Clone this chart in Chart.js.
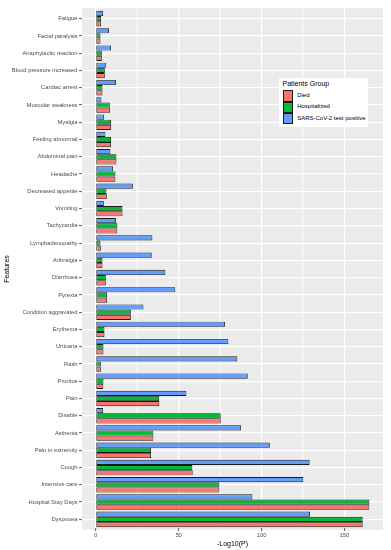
<!DOCTYPE html>
<html>
<head>
<meta charset="utf-8">
<script src="https://cdn.jsdelivr.net/npm/chart.js@4"></script>
<style>
  body { margin: 0; background: #fff; font-family: "Liberation Sans", Arial, sans-serif; }
  #wrap { position: relative; width: 391px; height: 550px; }
  #legend { position: absolute; left: 279px; top: 78px; width: 89px; height: 49px; background: #fff; }
  #legend .title { position: absolute; left: 3.5px; top: 1.5px; font-size: 7px; color: #000; white-space: nowrap; }
  #legend .row { position: absolute; left: 3.7px; height: 11.3px; white-space: nowrap; }
  #legend .key { position: absolute; left: 0; top: 0.3px; width: 8.8px; height: 9.6px; border: 0.9px solid #1a1a1a; }
  #legend .lab { position: absolute; left: 14.5px; top: 0; line-height: 11.3px; font-size: 6px; color: #000; }
</style>
</head>
<body>
<div id="wrap">
  <canvas id="chart" width="391" height="550"></canvas>
  <div id="legend"></div>
</div>
<script>
// categories, top to bottom
const features = ['Fatigue', 'Facial paralysis', 'Anaphylactic reaction', 'Blood pressure increased',
    'Cardiac arrest', 'Muscular weakness', 'Myalgia', 'Feeling abnormal', 'Abdominal pain', 'Headache',
    'Decreased appetite', 'Vomiting', 'Tachycardia', 'Lymphadenopathy', 'Arthralgia', 'Diarrhoea',
    'Pyrexia', 'Condition aggravated', 'Erythema', 'Urticaria', 'Rash', 'Pruritus', 'Pain', 'Disable',
    'Asthenia', 'Pain in extremity', 'Cough', 'Intensive care', 'Hospital Stay Days', 'Dyspnoea']

// -Log10(P) per group
const died = [3.3, 2.9, 3.7, 5.5, 4.1, 8.7, 9.3, 9.3, 12.5, 11.9, 6.7, 16.2, 13.1, 3.1, 4.1, 6.1,
    6.9, 21.2, 5.3, 4.7, 3.1, 4.6, 38.4, 75.4, 34.8, 33.4, 58.5, 74.6, 165, 161]
const hospitalized = [3.3, 2.9, 3.7, 5.5, 4.1, 8.5, 9.3, 9.3, 12.5, 11.9, 6.5, 16.2, 13.1, 2.9, 4.1, 6.1,
    6.9, 21.2, 5.3, 4.7, 3.1, 4.7, 38.3, 75.4, 34.8, 33.4, 58.3, 74.6, 165, 161]
const sarsPositive = [4.5, 8, 9.3, 6.3, 12.2, 3.5, 5.1, 5.9, 8.9, 10.5, 22.4, 4.9, 12.2, 34.2, 33.8, 42,
    48, 28.8, 78, 80, 85.4, 91.7, 54.7, 4.5, 87.7, 105, 129, 125.2, 94.5, 129.2]

// x axis ticks
const xMajor = [0, 50, 100, 150]
const xMinor = [25, 75, 125]
const xTickLabels = ['0', '50', '100', '150']

const groups = ['Died', 'Hospitalized', 'SARS-CoV-2 test positive']
const colors = ['#F8766D', '#00BA38', '#619CFF']

// legend box inside the panel
const legend = document.getElementById('legend')
legend.innerHTML = '<div class="title">Patients Group</div>' + groups.map((g, i) =>
    `<div class="row" style="top:${12 + i * 11.3}px"><div class="key" style="background:${colors[i]}"></div><div class="lab">${g}</div></div>`
).join('')

Chart.defaults.font.family = '"Liberation Sans", Arial, sans-serif'

// grey panel, a bit taller than the chart area like ggplot's discrete expansion
const panelPlugin = {
    id: 'panel',
    beforeDraw(chart) {
        const { ctx, chartArea: a, scales } = chart
        const band = (scales.y.getPixelForValue(1) - scales.y.getPixelForValue(0)) * 0.1
        ctx.save()
        ctx.fillStyle = '#fff'
        ctx.fillRect(0, 0, chart.width, chart.height)
        ctx.fillStyle = '#EBEBEB'
        ctx.fillRect(a.left, a.top - band, a.right - a.left, a.bottom - a.top + 2 * band)
        ctx.strokeStyle = '#fff'
        xMajor.concat(xMinor).forEach(v => {
            const x = scales.x.getPixelForValue(v)
            ctx.lineWidth = xMajor.includes(v) ? 1.2 : 0.6
            ctx.beginPath()
            ctx.moveTo(x, a.top - band)
            ctx.lineTo(x, a.bottom + band)
            ctx.stroke()
        })
        ctx.restore()
    }
}

new Chart(document.getElementById('chart'), {
    type: 'bar',
    data: {
        labels: features,
        datasets: [
            { label: groups[2], data: sarsPositive, backgroundColor: colors[2] },
            { label: groups[1], data: hospitalized, backgroundColor: colors[1] },
            { label: groups[0], data: died, backgroundColor: colors[0] }
        ].map(d => Object.assign(d, {
            borderColor: '#1a1a1a',
            borderWidth: 0.9,
            borderSkipped: false,
            categoryPercentage: 0.9,
            barPercentage: 1
        }))
    },
    options: {
        indexAxis: 'y',
        responsive: false,
        animation: false,
        layout: { padding: { top: 10, right: 8, left: 0, bottom: 0 } },
        plugins: {
            legend: { display: false },
            tooltip: { enabled: false }
        },
        scales: {
            x: {
                type: 'linear',
                min: -8.25,
                max: 173.25,
                afterBuildTicks: scale => {
                    scale.ticks = xMajor.concat(xMinor).sort((a, b) => a - b).map(v => ({ value: v }))
                },
                afterFit: scale => { scale.height = 22 },
                border: { display: false },
                grid: {
                    color: '#fff',
                    lineWidth: ctx => xMajor.includes(ctx.tick.value) ? 1.2 : 0.6,
                    tickColor: ctx => xMajor.includes(ctx.tick.value) ? '#333' : 'rgba(0,0,0,0)',
                    tickLength: 3,
                    tickWidth: 0.8
                },
                ticks: {
                    autoSkip: false,
                    maxRotation: 0,
                    padding: 1,
                    color: '#4D4D4D',
                    font: { size: 5.8 },
                    callback: v => {
                        const i = xMajor.indexOf(v)
                        return i >= 0 ? xTickLabels[i] : ''
                    }
                },
                title: {
                    display: true,
                    text: '-Log10(P)',
                    color: '#000',
                    font: { size: 7 },
                    padding: { top: 0, bottom: 2 }
                }
            },
            y: {
                type: 'category',
                afterFit: scale => { scale.width = 82 },
                border: { display: false },
                grid: {
                    offset: false,
                    color: '#fff',
                    lineWidth: 1.2,
                    tickColor: '#333',
                    tickLength: 3,
                    tickWidth: 0.8
                },
                ticks: {
                    autoSkip: false,
                    padding: 1.5,
                    color: '#4D4D4D',
                    font: { size: 5.8 }
                },
                title: {
                    display: true,
                    text: 'Features',
                    color: '#000',
                    font: { size: 7 },
                    padding: { top: 3, bottom: 0 }
                }
            }
        }
    },
    plugins: [panelPlugin]
})
</script>
</body>
</html>
